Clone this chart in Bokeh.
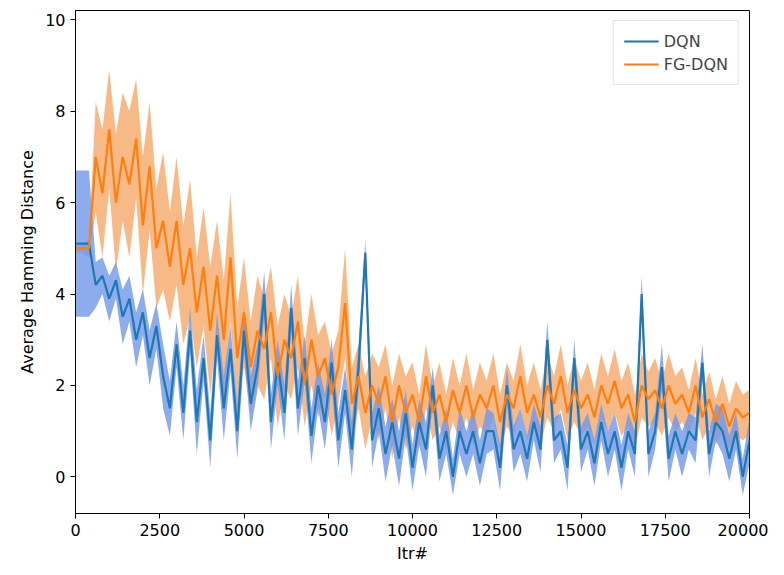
import numpy as np
from bokeh.plotting import figure
from bokeh.models import Range1d, Legend, LegendItem
from bokeh.embed import file_html
from bokeh.resources import INLINE

itr = list(range(0, 20001, 200))

dqn_mean = [5.1, 5.1, 5.1, 4.2, 4.4, 3.9, 4.3, 3.5, 3.9, 3.0,
            3.6, 2.6, 3.3, 2.2, 1.5, 2.9, 1.4, 3.2, 1.2, 2.6,
            0.8, 3.1, 1.5, 2.8, 1.0, 3.2, 1.6, 2.4, 4.0, 1.2,
            2.5, 1.4, 3.7, 1.5, 2.6, 0.9, 2.0, 1.2, 2.5, 0.8,
            1.9, 0.6, 2.4, 4.9, 0.8, 1.5, 0.5, 1.2, 0.4, 1.4,
            0.2, 1.2, 0.6, 2.0, 0.4, 1.0, 0.0, 1.0, 0.5, 1.0,
            0.3, 1.0, 1.0, 0.2, 2.0, 0.6, 1.0, 0.4, 1.2, 0.6,
            3.0, 0.8, 1.0, 0.2, 2.6, 0.6, 1.0, 0.3, 1.2, 0.5,
            1.0, 0.2, 1.0, 0.5, 4.0, 0.5, 1.0, 2.4, 0.4, 1.0,
            0.5, 1.0, 0.8, 2.5, 0.5, 1.2, 1.0, 0.4, 1.0, 0.0, 0.8]
dqn_spread = [1.6, 1.6, 1.6, 0.5, 0.4, 0.5, 0.4, 0.6, 0.5, 0.6,
              0.5, 0.6, 0.5, 0.7, 0.6, 0.5, 0.6, 0.5, 0.7, 0.5,
              0.6, 0.5, 0.7, 0.5, 0.6, 0.5, 0.6, 0.5, 0.5, 0.6,
              0.5, 0.6, 0.5, 0.6, 0.5, 0.6, 0.5, 0.6, 0.5, 0.6,
              0.5, 0.6, 0.5, 0.3, 0.6, 0.5, 0.6, 0.5, 0.6, 0.5,
              0.5, 0.5, 0.6, 0.4, 0.5, 0.5, 0.4, 0.5, 0.5, 0.5,
              0.5, 0.5, 0.4, 0.5, 0.4, 0.5, 0.5, 0.5, 0.4, 0.5,
              0.4, 0.5, 0.4, 0.5, 0.4, 0.5, 0.4, 0.5, 0.4, 0.5,
              0.4, 0.5, 0.4, 0.5, 0.4, 0.5, 0.4, 0.5, 0.5, 0.4,
              0.5, 0.4, 0.5, 0.4, 0.5, 0.4, 0.5, 0.5, 0.4, 0.4, 0.5]

fg_mean = [5.0, 5.0, 5.0, 7.0, 6.2, 7.6, 6.0, 7.0, 6.4, 7.4,
           5.5, 6.8, 5.0, 5.6, 4.6, 5.6, 4.2, 5.0, 3.6, 4.6,
           3.2, 4.4, 3.0, 4.8, 2.6, 3.6, 2.4, 3.2, 2.8, 3.6,
           2.2, 3.0, 2.6, 3.4, 2.0, 3.0, 2.2, 2.6, 1.8, 2.4,
           3.8, 1.6, 2.2, 1.4, 2.0, 1.6, 2.2, 1.2, 2.0, 1.4,
           1.8, 1.2, 2.2, 1.4, 1.8, 1.2, 1.9, 1.4, 2.0, 1.3,
           1.8, 1.5, 2.0, 1.2, 1.8, 1.5, 2.2, 1.4, 1.8, 1.3,
           2.0, 1.6, 2.2, 1.4, 1.9, 1.5, 1.8, 1.3, 2.0, 1.6,
           2.1, 1.5, 1.8, 1.2, 2.0, 1.7, 1.9, 1.5, 2.0, 1.6,
           1.8, 1.4, 2.0, 1.3, 1.7, 1.2, 1.6, 1.1, 1.5, 1.3, 1.4]
fg_spread = [0.1, 0.1, 0.2, 1.2, 1.4, 1.3, 1.5, 1.4, 1.6, 1.3,
             1.5, 1.4, 1.3, 1.5, 1.2, 1.4, 1.3, 1.5, 1.2, 1.3,
             1.4, 1.2, 1.3, 1.4, 1.1, 1.2, 1.0, 1.2, 1.1, 1.0,
             1.1, 1.0, 0.9, 1.0, 0.9, 1.0, 0.9, 0.8, 0.9, 0.8,
             1.2, 0.8, 0.7, 0.8, 0.7, 0.8, 0.7, 0.8, 0.7, 0.8,
             0.7, 0.6, 0.7, 0.6, 0.7, 0.6, 0.7, 0.6, 0.7, 0.6,
             0.7, 0.6, 0.7, 0.6, 0.7, 0.6, 0.7, 0.6, 0.7, 0.6,
             0.7, 0.6, 0.7, 0.6, 0.7, 0.6, 0.7, 0.6, 0.7, 0.6,
             0.7, 0.6, 0.7, 0.6, 0.7, 0.6, 0.7, 0.6, 0.7, 0.6,
             0.6, 0.5, 0.6, 0.5, 0.6, 0.5, 0.6, 0.5, 0.6, 0.5, 0.5]

p = figure(width=768, height=565, output_backend="svg", toolbar_location=None,
           x_range=Range1d(0, 20000), y_range=Range1d(-0.8, 10.2),
           x_axis_label="Itr#", y_axis_label="Average Hamming Distance",
           min_border_left=75, min_border_right=19, min_border_top=10)
p.grid.visible = False
p.outline_line_color = "black"
for ax in (p.xaxis, p.yaxis):
    ax.major_label_text_font_size = "12pt"
    ax.major_label_text_font = "DejaVu Sans"
    ax.major_label_text_color = "black"
    ax.axis_label_text_font_size = "12pt"
    ax.axis_label_text_font = "DejaVu Sans"
    ax.axis_label_text_color = "black"
    ax.axis_label_text_font_style = "normal"
    ax.minor_tick_line_color = None
    ax.major_tick_out = 5
    ax.major_tick_in = 0
p.xaxis.ticker = list(range(0, 20001, 2500))
p.yaxis.ticker = [0, 2, 4, 6, 8, 10]

dm, ds = np.array(dqn_mean), np.array(dqn_spread)
fm, fs = np.array(fg_mean), np.array(fg_spread)
p.varea(x=itr, y1=fm - fs, y2=fm + fs, fill_color="#f5a868", fill_alpha=0.8)
p.varea(x=itr, y1=dm - ds, y2=dm + ds, fill_color="#6f97ea", fill_alpha=0.8)
r1 = p.line(itr, dqn_mean, line_color="#1f77b4", line_width=2.2)
r2 = p.line(itr, fg_mean, line_color="#ff7f0e", line_width=2.2)

legend = Legend(items=[LegendItem(label="DQN", renderers=[r1]),
                       LegendItem(label="FG-DQN", renderers=[r2])],
                location="top_right", label_text_font_size="12pt",
                label_text_font="DejaVu Sans",
                border_line_color="#cccccc", glyph_width=35)
p.add_layout(legend)

open("out.html", "w").write(file_html(p, INLINE))
